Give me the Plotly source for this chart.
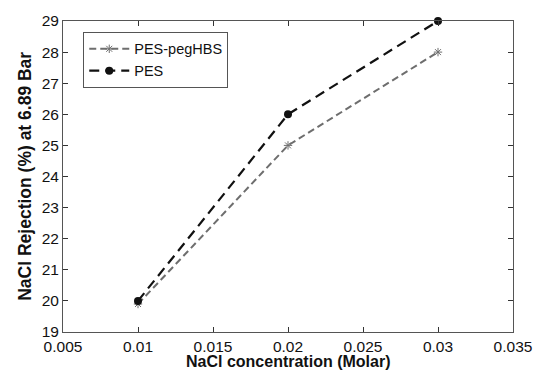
import plotly.graph_objects as go

x_vals = [0.01, 0.02, 0.03]
pes_peg = [19.9, 25.0, 28.0]
pes = [20.0, 26.0, 29.0]
x_ticks = [0.005, 0.01, 0.015, 0.02, 0.025, 0.03, 0.035]
y_ticks = list(range(19, 30))

fig = go.Figure()
fig.add_trace(go.Scatter(x=x_vals, y=pes_peg, name="PES-pegHBS", mode="lines+markers",
                         line=dict(color="#6e6e6e", width=2, dash="7px,4px"),
                         marker=dict(symbol="asterisk-open", size=7, color="#6e6e6e",
                                     line=dict(width=1, color="#6e6e6e")),
                         cliponaxis=False))
fig.add_trace(go.Scatter(x=x_vals, y=pes, name="PES", mode="lines+markers",
                         line=dict(color="#111111", width=2.2, dash="10px,6px"),
                         marker=dict(symbol="circle", size=8, color="#111111"),
                         cliponaxis=False))

fig.update_layout(
    width=541, height=379, margin=dict(l=63, r=28, t=21, b=47, autoexpand=False),
    paper_bgcolor="white", plot_bgcolor="white",
    font=dict(family="Liberation Sans, Arial, sans-serif", size=15, color="#111111"),
    showlegend=True,
    legend=dict(x=0.045, y=0.965, xanchor="left", yanchor="top", bgcolor="white",
                bordercolor="#555555", borderwidth=1, font=dict(size=14.5), tracegroupgap=0,
                itemwidth=40),
)
fig.update_xaxes(range=[0.005, 0.035], tickvals=x_ticks, ticktext=[str(v) for v in x_ticks],
                 ticks="inside", ticklen=5, tickcolor="#333333", showline=True, linecolor="#555555",
                 linewidth=1, mirror="ticks", showgrid=False, zeroline=False, automargin=False,
                 tickfont=dict(size=15.5))
fig.update_yaxes(range=[19, 29], tickvals=y_ticks, ticks="inside", ticklen=5, tickcolor="#333333",
                 showline=True, linecolor="#555555", linewidth=1, mirror="ticks", showgrid=False,
                 zeroline=False, automargin=False, tickfont=dict(size=15.5))

fig.add_annotation(text="<b>NaCl concentration (Molar)</b>", xref="paper", yref="paper",
                   x=0.5, y=-0.095, xanchor="center", yanchor="middle", showarrow=False,
                   font=dict(size=16))
fig.add_annotation(text="<b>NaCl Rejection (%) at 6.89 Bar</b>", xref="paper", yref="paper",
                   x=-0.086, y=0.5, xanchor="center", yanchor="middle", showarrow=False,
                   textangle=-90, font=dict(size=17.5))
fig.write_html("out.html", config={"displayModeBar": False},
               post_script="document.body.style.margin='0';document.body.style.overflow='hidden';")
